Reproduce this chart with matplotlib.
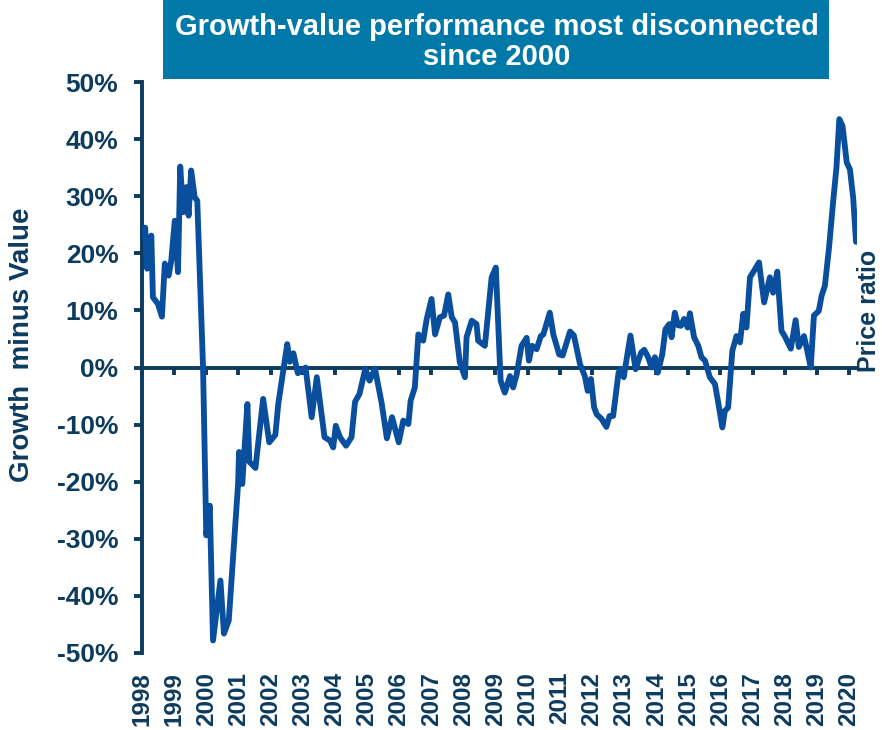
import matplotlib
matplotlib.use("Agg")
import matplotlib.pyplot as plt
from matplotlib.transforms import blended_transform_factory
from matplotlib.patches import Rectangle

# ---- data (years since Jan 1998, growth minus value in %) ----
t_years = [0.00, 0.10, 0.16, 0.29, 0.34, 0.50, 0.62, 0.71, 0.83, 0.91,
           1.02, 1.12, 1.19, 1.28, 1.38, 1.45, 1.53, 1.64, 1.72, 1.90,
           2.00, 2.11, 2.21, 2.44, 2.55, 2.70, 2.99, 3.02, 3.12, 3.28,
           3.34, 3.53, 3.77, 3.96, 4.15, 4.24, 4.52, 4.60, 4.71, 4.85,
           4.98, 5.09, 5.28, 5.44, 5.68, 5.85, 5.95, 6.03, 6.16, 6.35,
           6.52, 6.63, 6.77, 6.95, 7.08, 7.25, 7.46, 7.62, 7.78, 7.99,
           8.13, 8.29, 8.36, 8.49, 8.60, 8.75, 8.86, 9.01, 9.12, 9.27,
           9.40, 9.53, 9.64, 9.74, 9.89, 10.05, 10.10, 10.26, 10.41, 10.46,
           10.67, 10.88, 11.01, 11.16, 11.29, 11.45, 11.55, 11.66, 11.81, 11.97,
           12.04, 12.14, 12.28, 12.41, 12.49, 12.69, 12.80, 12.98, 13.09, 13.32,
           13.44, 13.63, 13.78, 13.87, 13.97, 14.07, 14.15, 14.30, 14.45, 14.55,
           14.66, 14.83, 14.90, 14.99, 15.20, 15.36, 15.53, 15.63, 15.75, 15.86,
           15.96, 16.05, 16.19, 16.29, 16.41, 16.48, 16.58, 16.68, 16.77, 16.87,
           16.98, 17.05, 17.18, 17.31, 17.41, 17.52, 17.67, 17.83, 17.93, 18.06,
           18.14, 18.24, 18.37, 18.50, 18.61, 18.71, 18.81, 18.92, 19.02, 19.20,
           19.36, 19.54, 19.64, 19.77, 19.90, 20.00, 20.19, 20.34, 20.44, 20.60,
           20.68, 20.81, 20.91, 21.06, 21.15, 21.25, 21.38, 21.51, 21.61, 21.70,
           21.80, 21.93, 22.03, 22.13, 22.22]
growth_minus_value = [23.1, 24.5, 17.3, 23.1, 12.3, 11.1, 8.9, 18.2, 16.1, 18.7,
                      25.7, 16.7, 35.2, 27.2, 31.6, 26.6, 34.5, 29.8, 29.2, 0.0,
                      -29.4, -24.2, -47.8, -37.3, -46.6, -44.3, -20.4, -14.8, -20.4, -6.4,
                      -16.5, -17.6, -5.5, -13.1, -11.8, -6.4, 4.1, 1.0, 2.5, -1.0,
                      -0.5, 0.0, -8.7, -1.7, -12.2, -12.8, -14.0, -10.2, -12.2, -13.7,
                      -12.2, -6.0, -4.6, -0.2, -2.3, -0.2, -6.3, -12.4, -8.7, -13.1,
                      -9.3, -9.9, -5.8, -3.5, 5.8, 4.7, 8.5, 12.0, 5.8, 8.8,
                      9.1, 12.8, 8.8, 7.9, 0.9, -1.7, 5.3, 8.2, 7.6, 4.7,
                      3.8, 15.8, 17.5, -2.3, -4.4, -1.5, -3.5, -1.2, 3.8, 5.2,
                      1.2, 3.8, 3.2, 5.5, 5.8, 9.6, 5.8, 2.3, 2.1, 6.3,
                      5.6, 0.6, -1.5, -4.1, -2.0, -7.0, -8.2, -9.0, -10.4, -8.5,
                      -8.5, -0.9, -0.3, -1.7, 5.6, -0.3, 2.6, 3.1, 1.8, 0.0,
                      1.8, -0.9, 2.3, 6.7, 7.6, 5.3, 9.6, 7.4, 7.3, 8.5,
                      7.0, 9.5, 5.3, 3.8, 1.8, 1.2, -1.7, -2.9, -6.1, -10.5,
                      -7.6, -7.0, 2.9, 5.5, 4.4, 9.4, 7.0, 15.8, 16.7, 18.4,
                      11.4, 15.8, 13.1, 16.8, 6.4, 5.5, 3.3, 8.3, 3.6, 5.5,
                      3.5, 0.0, 9.1, 9.9, 12.6, 14.3, 21.0, 29.2, 35.0, 43.5,
                      42.3, 35.9, 34.7, 29.8, 22.0]
year_labels = [str(y) for y in range(1998, 2021)]
y_ticks = [-50, -40, -30, -20, -10, 0, 10, 20, 30, 40, 50]
y_tick_labels = [f"{v}%" for v in y_ticks]

title_text = "Growth-value performance most disconnected\nsince 2000"
ylabel_text = "Growth  minus Value"
right_label = "Price ratio"

# ---- style ----
NAVY = "#0D3B5E"
LINE = "#0A4F9E"
TEAL = "#0079A8"
FONT = ["Liberation Sans", "DejaVu Sans"]
plt.rcParams["font.family"] = FONT
plt.rcParams["font.weight"] = "bold"

W, H = 882, 730
fig = plt.figure(figsize=(W / 100, H / 100), dpi=100)
ax = fig.add_axes([142 / W, (H - 653) / H, (857 - 142) / W, (653 - 82) / H])

ax.plot(t_years, growth_minus_value, color=LINE, lw=4.2, solid_joinstyle="round",
        solid_capstyle="round", zorder=3)

ax.set_xlim(0, 22.25)
ax.set_ylim(-50, 50)

for s in ["top", "right"]:
    ax.spines[s].set_visible(False)
ax.spines["left"].set_color(NAVY)
ax.spines["left"].set_linewidth(2.8)
ax.spines["bottom"].set_position(("data", 0))
ax.spines["bottom"].set_color(NAVY)
ax.spines["bottom"].set_linewidth(2.8)
ax.spines["bottom"].set_zorder(2)

ax.set_yticks(y_ticks)
ax.set_yticklabels(y_tick_labels)
ax.tick_params(axis="y", direction="out", length=6, width=2.8, color=NAVY,
               labelcolor=NAVY, labelsize=19, pad=11)
for lab in ax.get_yticklabels():
    lab.set_fontweight("bold")

ax.set_xticks(range(len(year_labels)))
ax.set_xticklabels([])
ax.tick_params(axis="x", direction="out", length=5, width=2.8, color=NAVY)

trans = blended_transform_factory(ax.transData, ax.transAxes)
for i, lab in enumerate(year_labels):
    ax.text(i, -0.033, lab, transform=trans, rotation=90, ha="center", va="top",
            fontsize=17.5, fontweight="bold", color=NAVY)

# y label
fig.text(22 / W, 1 - 345 / H, ylabel_text, rotation=90, ha="center", va="center",
         fontsize=20, fontweight="bold", color=NAVY)

# right label, pushed against the right edge
fig.text(881 / W, 1 - 372 / H, right_label, rotation=90, ha="right", va="bottom",
         fontsize=18, fontweight="bold", color=NAVY)

# title box
fig.patches.append(Rectangle((163 / W, 1 - 79 / H), (829 - 163) / W, 79 / H,
                             transform=fig.transFigure, facecolor=TEAL,
                             edgecolor="none", zorder=0))
fig.text(497 / W, 1 - 42 / H, title_text, ha="center", va="center",
         fontsize=21, fontweight="bold", color="white", linespacing=1.12)

fig.savefig("out.png", dpi=100)
